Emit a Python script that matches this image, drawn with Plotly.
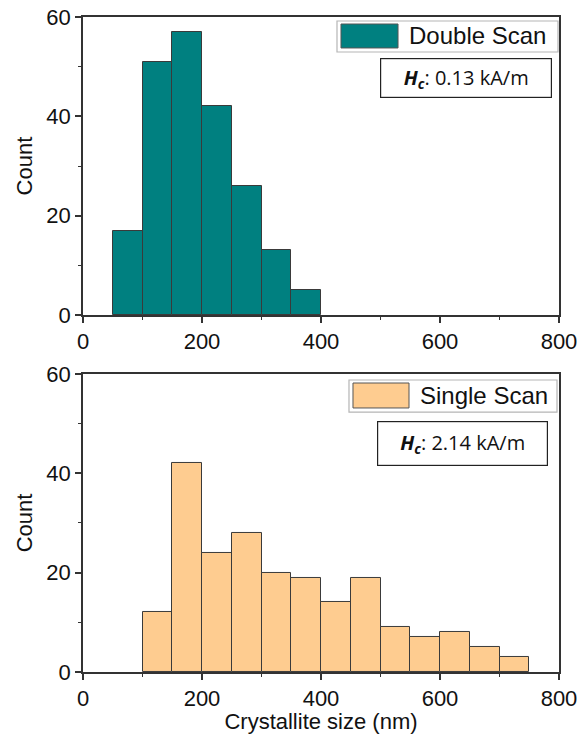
import plotly.graph_objects as go

# ---- data ----
bin_width = 50
double_centers = [75, 125, 175, 225, 275, 325, 375]
double_counts = [17, 51, 57, 42, 26, 13, 5]
single_centers = [125, 175, 225, 275, 325, 375, 425, 475, 525, 575, 625, 675, 725]
single_counts = [12, 42, 24, 28, 20, 19, 14, 19, 9, 7, 8, 5, 3]
x_ticks = [0, 200, 400, 600, 800]
y_ticks = [0, 20, 40, 60]
labels = ["Double Scan", "Single Scan"]
hc_values = ["0.13", "2.14"]

teal = "#008080"
orange = "#FECC90"
edge = "#3a3a3a"
axc = "#333333"
FONT = "Liberation Sans"

fig = go.Figure()
fig.add_trace(go.Bar(x=double_centers, y=double_counts, width=bin_width,
                     marker=dict(color=teal, line=dict(color=edge, width=1)),
                     xaxis="x", yaxis="y", showlegend=False, name=labels[0]))
fig.add_trace(go.Bar(x=single_centers, y=single_counts, width=bin_width,
                     marker=dict(color=orange, line=dict(color=edge, width=1)),
                     xaxis="x2", yaxis="y2", showlegend=False, name=labels[1]))

def xax(anchor, title=None):
    d = dict(anchor=anchor, range=[0, 800], tickvals=x_ticks, showgrid=False, automargin=False,
             zeroline=False, showline=True, mirror=True, linecolor=axc, linewidth=1.5,
             ticks="outside", ticklen=6, tickwidth=1.5, tickcolor=axc,
             minor=dict(dtick=100, ticks="outside", ticklen=3, tickcolor=axc, tickwidth=1.2),
             tickfont=dict(family=FONT, size=22, color="#111"))
    if title:
        d["title"] = dict(text=title, font=dict(family=FONT, size=22, color="#111"), standoff=18)
    return d

def yax(anchor, domain):
    return dict(anchor=anchor, domain=domain, range=[0, 60], tickvals=y_ticks, showgrid=False,
                automargin=False,
                zeroline=False, showline=True, mirror=True, linecolor=axc, linewidth=1.5,
                ticks="outside", ticklen=6, tickwidth=1.5, tickcolor=axc,
                minor=dict(dtick=10, ticks="outside", ticklen=3, tickcolor=axc, tickwidth=1.2),
                tickfont=dict(family=FONT, size=22, color="#111"),
                title=dict(text="Count", font=dict(family=FONT, size=22, color="#111"), standoff=8))

fig.update_layout(
    width=584, height=734,
    margin=dict(l=83, r=25, t=17, b=62),
    paper_bgcolor="white", plot_bgcolor="white",
    bargap=0,
    xaxis=xax("y"),
    yaxis=yax("x", [0.545, 1.0]),
    xaxis2=xax("y2", "Crystallite size (nm)"),
    yaxis2=yax("x2", [0.0, 0.455]),
)

# legend-like boxes (paper coordinates)
legends = [
    dict(box=(0.5336, 0.9979, 0.9466, 0.9939), sw=(0.542, 0.6618, 0.9527, 0.9893),
         tx=(0.6807, 0.971), color=teal, label=labels[0]),
    dict(box=(0.5588, 0.9958, 0.3969, 0.4458), sw=(0.5672, 0.6849, 0.4031, 0.4412),
         tx=(0.7038, 0.4214), color=orange, label=labels[1]),
]
for lg in legends:
    x0, x1, y0, y1 = lg["box"]
    fig.add_shape(type="rect", xref="paper", yref="paper", x0=x0, x1=x1, y0=y0, y1=y1,
                  line=dict(color="#b5b5b5", width=1.2), fillcolor="white", layer="above")
    x0, x1, y0, y1 = lg["sw"]
    fig.add_shape(type="rect", xref="paper", yref="paper", x0=x0, x1=x1, y0=y0, y1=y1,
                  line=dict(color="#555", width=1), fillcolor=lg["color"], layer="above")
    fig.add_annotation(xref="paper", yref="paper", x=lg["tx"][0], y=lg["tx"][1],
                       xanchor="left", yanchor="middle", showarrow=False,
                       text=lg["label"], font=dict(family=FONT, size=24, color="#111"))

# Hc boxes
hc_boxes = [(0.8046, 0.9076, 168, 36, hc_values[0]), (0.7973, 0.3481, 167, 41, hc_values[1])]
for x, y, w, h, v in hc_boxes:
    fig.add_annotation(xref="paper", yref="paper", x=x, y=y, xanchor="center", yanchor="middle",
                       showarrow=False, width=w, height=h, align="center", valign="middle",
                       bordercolor="#222", borderwidth=1.2, borderpad=1, bgcolor="white",
                       text=f"<b><i>H</i></b><sub><b><i>c</i></b></sub>: {v} kA/m",
                       font=dict(family="Open Sans", size=20, color="#111"))

fig.write_html("out.html")
